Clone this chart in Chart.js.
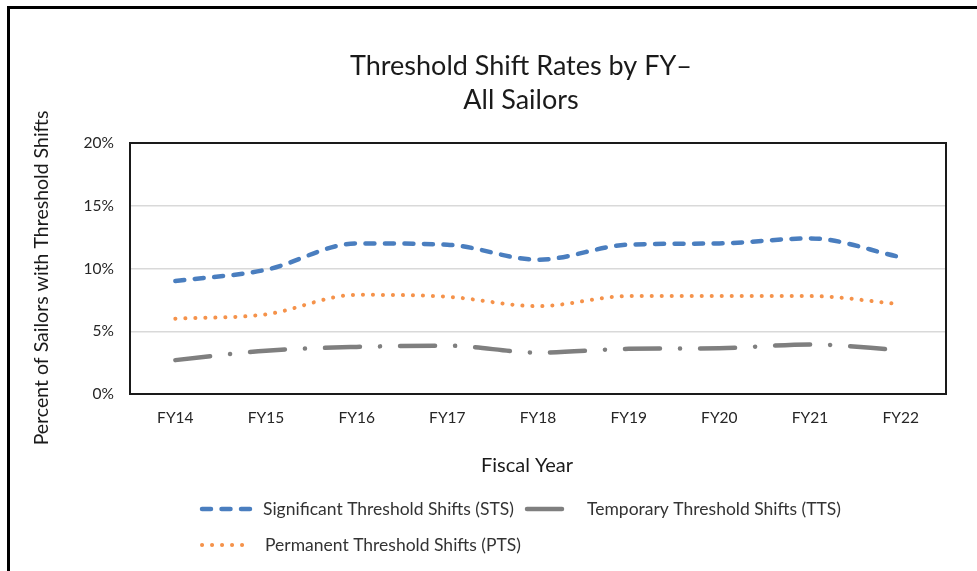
<!DOCTYPE html>
<html>
<head>
<meta charset="utf-8">
<script src="https://cdn.jsdelivr.net/npm/chart.js@4.4.0/dist/chart.umd.min.js"></script>
<style>
  html, body { margin: 0; padding: 0; background: #fff; }
  #wrap { position: relative; width: 977px; height: 571px; overflow: hidden; }
  #wrap canvas { position: absolute; left: 0; top: 0; }
  #frame { position: absolute; left: 7px; top: 6px; right: -10px; bottom: -10px;
           border-left: 3px solid #000; border-top: 3px solid #000; pointer-events: none; }
</style>
</head>
<body>
<div id="wrap">
  <canvas id="chart" width="977" height="571"></canvas>
  <div id="frame"></div>
</div>
<script>
'use strict';

// ── Data (percent of sailors) ───────────────────────────
const fiscalYears = ['FY14', 'FY15', 'FY16', 'FY17', 'FY18', 'FY19', 'FY20', 'FY21', 'FY22'];
const stsRates    = [9.0, 9.9, 12.0, 11.9, 10.7, 11.9, 12.0, 12.4, 10.9];
const ttsRates    = [2.7, 3.45, 3.75, 3.85, 3.3, 3.6, 3.65, 3.95, 3.5];
const ptsRates    = [6.0, 6.35, 7.9, 7.75, 7.0, 7.8, 7.8, 7.8, 7.15];
const yTicks      = [0, 5, 10, 15, 20];

const titleLines  = ['Threshold Shift Rates by FY\u2013', 'All Sailors'];
const xTitle      = 'Fiscal Year';
const yTitle      = 'Percent of Sailors with Threshold Shifts';
const FONT = 'Lato, "Open Sans", sans-serif';

// ── Plugins ─────────────────────────────────────────────
const plotFrame = {
    id: 'plotFrame',
    afterDatasetsDraw(chart) {
        const { ctx, chartArea: a } = chart;
        ctx.save();
        ctx.strokeStyle = '#1a1a1a';
        ctx.lineWidth = 2;
        ctx.strokeRect(a.left, a.top, a.right - a.left, a.bottom - a.top);
        ctx.restore();
    }
};

// chart title + axis titles (placed like the Excel original, slightly off the plot centre)
const titleBlock = {
    id: 'titleBlock',
    afterDraw(chart) {
        const ctx = chart.ctx;
        ctx.save();
        ctx.fillStyle = '#1a1a1a';
        ctx.textAlign = 'center';
        ctx.textBaseline = 'middle';
        ctx.font = '27px ' + FONT;
        titleLines.forEach((t, i) => ctx.fillText(t, 521, 66 + i * 34));
        ctx.font = '20px ' + FONT;
        ctx.fillText(xTitle, 527, 466);
        ctx.translate(42, 278);
        ctx.rotate(-Math.PI / 2);
        ctx.font = '19.5px ' + FONT;
        ctx.fillText(yTitle, 0, 0);
        ctx.restore();
    }
};

// legend slots: [dataset index, sample x0, sample x1, text x, y]
const legendSlots = [
    [0, 202, 250, 263, 509],
    [1, 527, 566, 587, 509],
    [2, 202, 250, 265, 545],
];

const customLegend = {
    id: 'customLegend',
    afterDraw(chart) {
        const ctx = chart.ctx;
        legendSlots.forEach(([di, x0, x1, tx, y]) => {
            const ds = chart.data.datasets[di];
            ctx.save();
            ctx.strokeStyle = ds.borderColor;
            ctx.lineWidth = ds.borderWidth;
            ctx.lineCap = 'round';
            ctx.setLineDash(ds.borderDash || []);
            ctx.beginPath();
            ctx.moveTo(x0, y);
            ctx.lineTo(x1, y);
            ctx.stroke();
            ctx.setLineDash([]);
            ctx.fillStyle = '#333333';
            ctx.font = '17.5px ' + FONT;
            ctx.textAlign = 'left';
            ctx.textBaseline = 'middle';
            ctx.fillText(ds.label, tx, y);
            ctx.restore();
        });
    }
};

// ── Chart ───────────────────────────────────────────────
const lineBase = { fill: false, pointRadius: 0, cubicInterpolationMode: 'monotone',
                   borderCapStyle: 'round', borderJoinStyle: 'round' };

new Chart(document.getElementById('chart').getContext('2d'), {
    type: 'line',
    data: {
        labels: fiscalYears,
        datasets: [
            { ...lineBase, label: 'Significant Threshold Shifts (STS)', data: stsRates,
              borderColor: '#4a7ebf', borderWidth: 4.5, borderDash: [9, 10.5] },
            { ...lineBase, label: 'Temporary Threshold Shifts (TTS)', data: ttsRates,
              borderColor: '#7f7f7f', borderWidth: 4.5, borderDash: [35, 20, 0.1, 20] },
            { ...lineBase, label: 'Permanent Threshold Shifts (PTS)', data: ptsRates,
              borderColor: '#f5924a', borderWidth: 4, borderDash: [0.1, 9.9] },
        ],
    },
    options: {
        responsive: false,
        animation: false,
        layout: { padding: { top: 143, left: 25, right: 31, bottom: 81 } },
        plugins: {
            legend: { display: false },
            title: { display: false },
            tooltip: { enabled: false },
        },
        scales: {
            x: {
                offset: true,
                grid: { display: false, drawTicks: false },
                border: { display: false },
                ticks: { color: '#262626', padding: 15, font: { family: FONT, size: 15.5 } },
                afterFit: s => { s.height = 96; },
            },
            y: {
                min: 0, max: 20,
                afterBuildTicks: s => { s.ticks = yTicks.map(v => ({ value: v })); },
                grid: { color: '#d9d9d9', lineWidth: 1.5, drawTicks: false },
                border: { display: false },
                ticks: { color: '#262626', padding: 16, font: { family: FONT, size: 15.5 },
                         callback: v => v + '%' },
                afterFit: s => { s.width = 105; },
            },
        },
    },
    plugins: [plotFrame, titleBlock, customLegend],
});
</script>
</body>
</html>
